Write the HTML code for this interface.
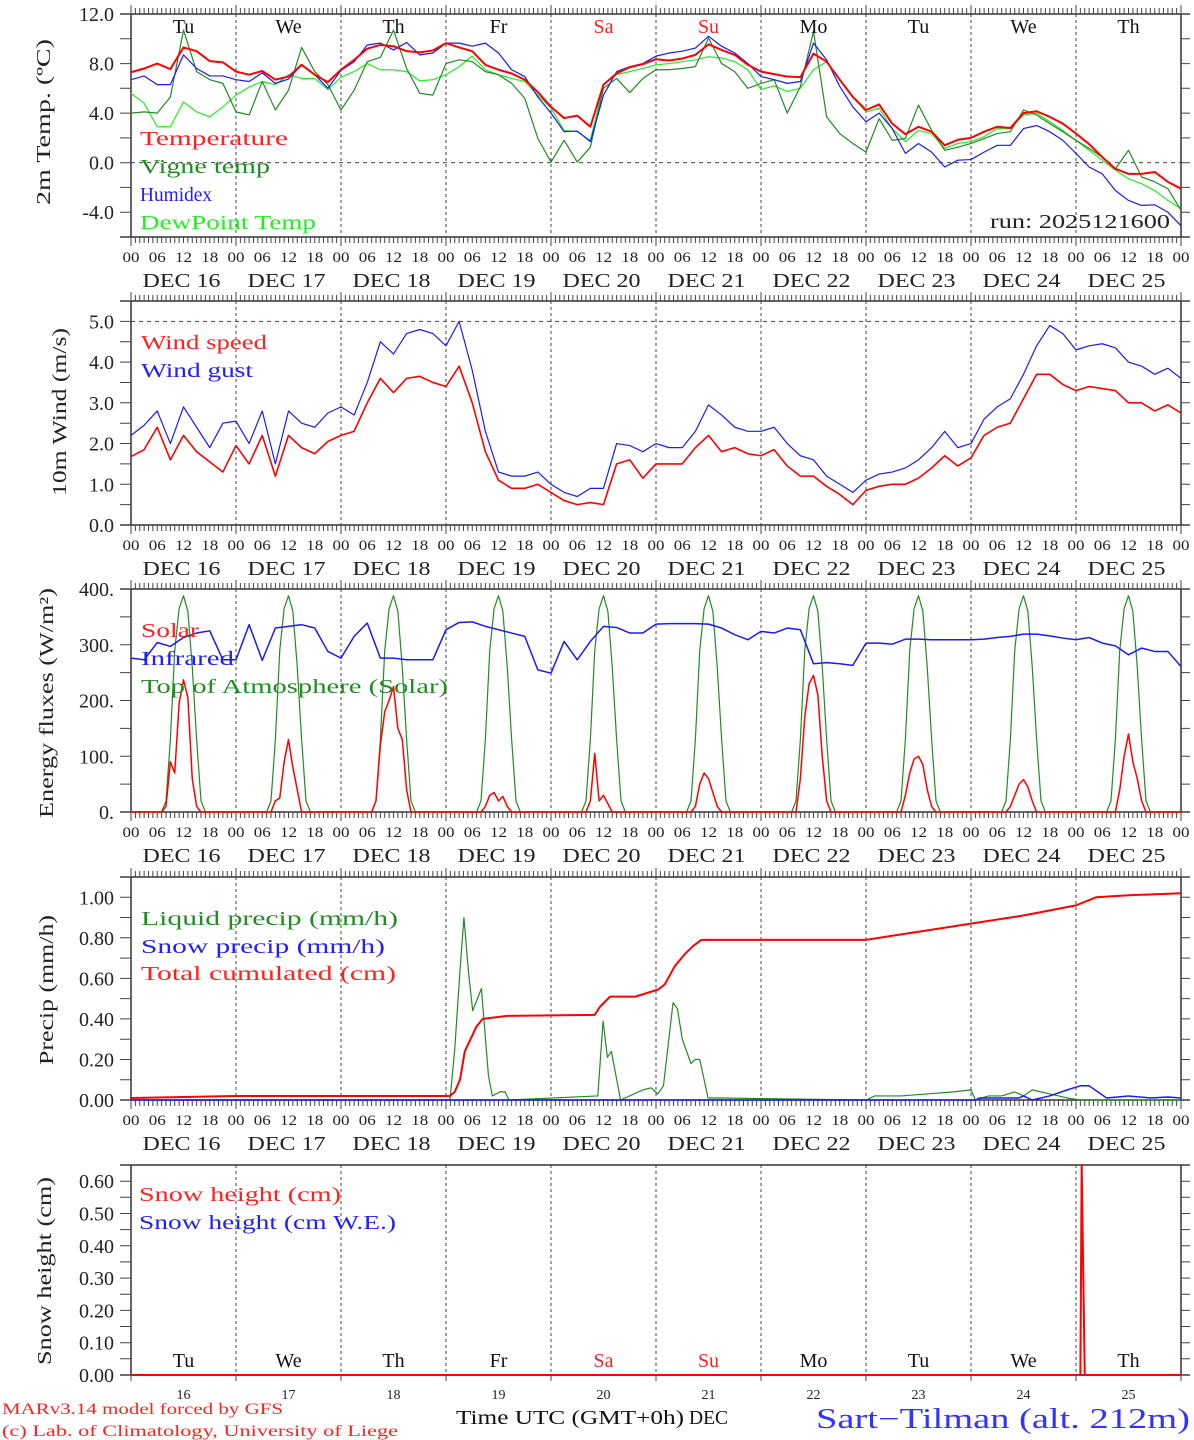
<!DOCTYPE html>
<html><head><meta charset="utf-8"><title>MAR meteogram Sart-Tilman</title>
<style>html,body{margin:0;padding:0;background:#fff}svg{display:block;font-family:"Liberation Serif",serif}</style>
</head><body>
<svg id="chart" xmlns="http://www.w3.org/2000/svg" width="1194" height="1440" viewBox="0 0 1194 1440"></svg>
<script>
// ===== DATA (3-hourly from 00 UTC Dec 16 to 00 UTC Dec 26) =====
const stepHours = 3;
const dayLabels = ['16','17','18','19','20','21','22','23','24','25'];
const weekdays = ['Tu','We','Th','Fr','Sa','Su','Mo','Tu','We','Th'];
const temperature = [7.3,7.6,8.0,7.55,9.3,9.0,8.2,8.1, 7.35,7.1,7.4,6.7,6.95,7.9,7.1,6.5, 7.5,8.3,9.2,9.5,9.4,9.0,8.9,9.05, 9.65,9.3,9.0,7.9,7.5,7.2,6.7,5.7, 4.5,3.6,3.8,2.9,6.3,7.2,7.7,7.95, 8.35,8.25,8.4,8.7,9.55,9.1,8.7,7.9, 7.35,7.15,6.95,6.9,8.8,8.15,6.7,5.3, 4.25,4.7,3.15,2.3,2.9,2.5,1.4,1.85, 2.0,2.5,2.9,2.8,4.0,4.15,3.7,3.15, 2.35,1.5,0.45,-0.5,-0.9,-0.9,-0.75,-1.55, -2.1];
const vigneTemp = [4.0,4.1,4.0,5.3,10.7,7.35,6.7,6.4, 4.1,3.85,6.55,4.25,5.85,9.3,7.35,6.3, 4.25,5.85,8.15,8.5,10.7,7.6,5.6,5.45, 8.0,8.3,8.15,7.35,7.1,6.4,5.2,1.95, 0.05,1.8,0.05,1.25,6.0,6.8,5.65,6.8, 7.5,7.5,7.6,7.75,10.05,8.0,7.35,6.0, 6.4,6.7,4.0,6.15,10.6,3.7,2.35,1.55, 0.85,3.55,1.8,1.95,4.65,2.6,1.0,1.25, 1.55,1.95,2.35,2.5,4.25,3.85,3.15,2.5, 1.8,1.15,0.45,-0.5,1.0,-1.15,-1.55,-2.1, -3.85];
const humidex = [6.7,7.0,6.3,6.3,8.7,7.6,7.0,7.0, 6.7,6.55,7.25,6.4,6.75,7.9,7.1,6.0, 7.45,8.15,9.5,9.65,9.1,9.7,8.7,8.85, 9.65,9.65,9.4,9.65,8.85,7.5,6.95,5.3, 4.0,2.5,2.55,1.7,5.45,7.35,7.75,8.0, 8.6,8.85,9.0,9.25,10.2,9.4,8.85,8.0, 6.95,6.7,6.4,6.55,9.65,8.3,6.15,4.5, 3.3,4.0,2.75,0.75,1.55,0.85,-0.35,0.2, 0.25,0.85,1.4,1.4,2.75,3.0,2.5,1.8, 0.75,-0.35,-0.9,-2.25,-3.05,-3.45,-3.4,-4.0, -5.1];
const dewPoint = [5.6,4.8,2.9,2.9,4.9,4.1,3.7,4.5, 5.45,6.1,6.55,6.3,7.1,6.8,6.8,5.9, 6.9,7.35,8.0,7.5,7.5,7.35,6.6,6.7, 7.1,7.75,8.6,7.5,7.1,6.8,6.55,5.45, 4.4,2.6,2.5,1.8,6.3,7.1,7.35,7.6, 7.9,8.0,8.15,8.3,8.55,8.45,8.15,7.5, 5.9,6.2,5.75,6.0,7.5,8.15,6.7,5.3, 4.1,4.4,2.75,1.7,2.6,2.35,1.15,1.55, 1.7,2.1,2.75,2.75,3.85,4.0,3.3,2.6, 1.8,1.0,0.2,-0.6,-1.3,-1.7,-2.25,-3.05, -3.7];
const windSpeed = [1.68,1.85,2.4,1.6,2.2,1.8,1.55,1.3, 1.95,1.5,2.2,1.2,2.2,1.9,1.75,2.05, 2.2,2.3,3.0,3.6,3.25,3.6,3.65,3.5, 3.4,3.9,3.0,1.8,1.1,0.9,0.9,1.0, 0.8,0.6,0.5,0.55,0.5,1.5,1.6,1.15, 1.5,1.5,1.5,1.9,2.2,1.8,1.9,1.75, 1.7,1.85,1.45,1.2,1.2,0.95,0.75,0.5, 0.85,0.95,1.0,1.0,1.15,1.4,1.7,1.45, 1.65,2.2,2.4,2.5,3.1,3.7,3.7,3.45, 3.3,3.4,3.35,3.3,3.0,3.0,2.8,2.95, 2.75];
const windGust = [2.2,2.45,2.8,2.0,2.9,2.4,1.9,2.5, 2.55,2.0,2.8,1.5,2.8,2.5,2.4,2.75, 2.9,2.7,3.5,4.5,4.2,4.7,4.8,4.7, 4.4,5.0,3.8,2.3,1.3,1.2,1.2,1.3, 1.0,0.8,0.7,0.9,0.9,2.0,1.95,1.8, 2.0,1.9,1.9,2.3,2.95,2.7,2.4,2.3, 2.3,2.4,2.0,1.7,1.6,1.2,1.0,0.8, 1.1,1.25,1.3,1.4,1.6,1.9,2.3,1.9, 2.0,2.6,2.9,3.1,3.7,4.4,4.9,4.7, 4.3,4.4,4.45,4.35,4.0,3.9,3.7,3.85, 3.6];
const infrared = [276,273,304,297,313,321,325,273, 273,336,272,330,333,336,330,288, 276,315,339,276,276,273,273,273, 327,340,341,333,327,321,315,255, 249,306,273,306,333,331,321,321, 337,338,338,338,337,330,318,309, 324,321,330,327,266,268,266,263, 303,303,301,310,310,309,309,309, 309,310,313,315,319,319,316,312, 309,313,303,298,282,294,288,288, 261];
// hourly clear-sky top-of-atmosphere profile (hour of day 0..23)
const toaProfile = [0,0,0,0,0,0,0,0,20,130,290,365,388,360,260,130,20,0,0,0,0,0,0,0];
// hourly solar, hours 7..16 of each day
const solarStartHour = 7;
const solarDays = [
 [0,10,90,70,195,237,205,60,10,0],
 [0,0,20,25,90,130,80,40,0,0],
 [0,20,120,180,200,225,150,130,40,0],
 [0,0,10,30,35,20,28,10,0,0],
 [0,0,20,105,20,30,15,0,0,0],
 [0,0,10,50,70,60,35,10,0,0],
 [0,0,60,170,230,245,210,100,20,0],
 [0,0,30,70,95,100,85,40,10,0],
 [0,0,10,30,50,58,45,20,0,0],
 [0,0,0,40,100,140,90,60,20,0]];
const liquidHours = [0,72.9,74,75.2,76.1,77.1,78.1,80.1,81.7,82.6,84.3,85.5,86.4,106.7,107.9,108.9,109.8,111.9,117,118.9,120.4,121.7,123.9,124.9,126,128,129,130,131.9,135,168,170,176,182,188,192,193,196,199,202,204,206,210,214,217,240];
const liquidValues = [0,0,0.25,0.64,0.9,0.64,0.44,0.55,0.12,0.02,0.04,0.04,0,0.02,0.39,0.21,0.24,0,0.05,0.06,0.03,0.07,0.48,0.45,0.3,0.18,0.2,0.2,0.01,0.01,0,0.02,0.02,0.03,0.04,0.05,0,0.02,0.02,0.04,0.02,0.05,0.03,0.01,0,0];
const snowPrecipHours = [0,193,194,203,204,206,210,214,217,219,223,228,233,237,240];
const snowPrecipValues = [0,0,0.01,0.01,0.02,0,0.02,0.05,0.07,0.07,0.01,0.02,0.01,0.015,0.01];
const cumulHours = [0,24,72.9,74,75.2,76.3,77.4,78.9,80.4,86,106,107.2,109.5,115.3,120.5,122,124.3,126.6,128.5,130.4,168,180,192,204,216,220.6,228,240];
const cumulValues = [0.01,0.02,0.02,0.04,0.1,0.24,0.29,0.36,0.4,0.415,0.42,0.46,0.51,0.51,0.545,0.57,0.66,0.72,0.76,0.79,0.79,0.83,0.87,0.91,0.96,1.0,1.01,1.02];
const snowHeightHours = [0,217,217.3,218,240];
const snowHeightValues = [0,0,0.65,0,0];
const snowWEHours = [0,240];
const snowWEValues = [0,0];
const tempTicks = [-4,0,4,8,12];
const windTicks = [0,1,2,3,4,5];
const fluxTicks = [0,100,200,300,400];
const precipTicks = [0,0.2,0.4,0.6,0.8,1.0];
const snowTicks = [0,0.1,0.2,0.3,0.4,0.5,0.6];

// ===== RENDER =====
const NS='http://www.w3.org/2000/svg';
const svg=document.getElementById('chart');
function mk(tag,attrs,parent){const e=document.createElementNS(NS,tag);for(const k in attrs)e.setAttribute(k,attrs[k]);(parent||svg).appendChild(e);return e;}
function X(h){return 131+h*1050/240;}
function txt(x,y,s,size,color,anchor,len,name,rot){
  const t=mk('text',{x:x,y:y,'font-size':size,fill:color,'text-anchor':anchor||'start'});
  if(len){t.setAttribute('textLength',len);t.setAttribute('lengthAdjust','spacingAndGlyphs');}
  if(rot){t.setAttribute('transform','rotate(-90 '+x+' '+y+')');}
  t.textContent=s;
  
  
  return t;
}
const panels=[
 {top:14,bot:237,min:-6,max:12,minor:2,ticks:tempTicks,fmt:v=>v.toFixed(1),title:'2m Temp. (ºC)',tx:50,ty:122,tl:166},
 {top:301,bot:525,min:0,max:5.5,minor:0.5,ticks:windTicks,fmt:v=>v.toFixed(1),title:'10m Wind (m/s)',tx:66,ty:412,tl:168},
 {top:589,bot:812,min:0,max:400,minor:50,ticks:fluxTicks,fmt:v=>v.toFixed(0)+'.',title:'Energy fluxes (W/m²)',tx:53,ty:703,tl:230},
 {top:877,bot:1100,min:0,max:1.1,minor:0.1,ticks:precipTicks,fmt:v=>v.toFixed(2),title:'Precip (mm/h)',tx:53,ty:990,tl:150},
 {top:1165,bot:1375,min:0,max:0.65,minor:0.05,ticks:snowTicks,fmt:v=>v.toFixed(2),title:'Snow height (cm)',tx:51,ty:1271,tl:188}];
function Yf(p){return v=>p.bot-(v-p.min)/(p.max-p.min)*(p.bot-p.top);}

panels.forEach((p,pi)=>{
  const Y=Yf(p);
  const g=mk('g',{});
  
  
  // day dividers
  for(let d=1;d<10;d++){
    const l=mk('line',{x1:X(24*d),x2:X(24*d),y1:p.top,y2:pi==4?p.bot+5:p.bot,stroke:'#444','stroke-width':1,'stroke-dasharray':'3,3'},g);
    
    
  }
  // frame
  const fr=mk('path',{d:`M120 ${p.top}H1190M120 ${p.bot}H1190M131 ${p.top}V${p.bot}M1181 ${p.top}V${p.bot}`,stroke:'#333','stroke-width':1.5,fill:'none'},g);
  
  
  // y ticks
  let d='';
  for(let v=p.min;v<=p.max+1e-9;v+=p.minor){const y=Y(v).toFixed(1);d+=`M120 ${y}H131M1181 ${y}H1190`;}
  if(pi<4){for(let h=0;h<=240;h++){const x=X(h).toFixed(2);const L=h%24==0?9:6;d+=`M${x} ${p.top}v-${L}M${x} ${p.bot}v${L}`;}}
  else{for(let dd=0;dd<=10;dd++){const x=X(24*dd);d+=`M${x} ${p.bot}v6`;}}
  const tk=mk('path',{d:d,stroke:'#444','stroke-width':1,fill:'none'},g);
  
  
  p.ticks.forEach(v=>{txt(114,Y(v)+7,p.fmt(v),20,'#222','end',null,'y-tick-label');});
  txt(p.tx,p.ty,p.title,20,'#222','middle',p.tl,'y-axis-title',true);
  if(pi<4){
    for(let dd=0;dd<10;dd++){
      [0,6,12,18].forEach(hh=>{txt(X(24*dd+hh),p.bot+25,String(hh).padStart(2,'0'),15,'#222','middle',17,'x-tick-label');});
      txt(X(24*dd+12)-2,p.bot+50,'DEC '+dayLabels[dd],20,'#222','middle',78,'date-label');
    }
    txt(X(240),p.bot+25,'00',15,'#222','middle',17,'x-tick-label');
  } else {
    for(let dd=0;dd<10;dd++){txt(X(24*dd+12),p.bot+24,dayLabels[dd],14,'#222','middle',null,'day-number');}
  }
});

function line(pi,hours,vals,color,w,name){
  const Y=Yf(panels[pi]);
  const pts=vals.map((v,i)=>X(hours[i]).toFixed(2)+','+Y(v).toFixed(2)).join(' ');
  const pl=mk('polyline',{points:pts,fill:'none',stroke:color,'stroke-width':w,'stroke-linejoin':'round'});
  
  
}
const h3=a=>a.map((v,i)=>i*stepHours);
// panel 1
const p1=Yf(panels[0]);
const z=mk('line',{x1:131,x2:1181,y1:p1(0),y2:p1(0),stroke:'#444','stroke-dasharray':'4,4','stroke-width':1});


line(0,h3(dewPoint),dewPoint,'#22ee22',1.2,'dewpoint-line');
line(0,h3(vigneTemp),vigneTemp,'#228b22',1.2,'vigne-temp-line');
line(0,h3(humidex),humidex,'#1a1aff',1.2,'humidex-line');
line(0,h3(temperature),temperature,'#ff0000',2,'temperature-line');
// panel 2
const p2=Yf(panels[1]);
const f=mk('line',{x1:131,x2:1181,y1:p2(5),y2:p2(5),stroke:'#444','stroke-dasharray':'4,4','stroke-width':1});


line(1,h3(windGust),windGust,'#1a1aff',1.2,'wind-gust-line');
line(1,h3(windSpeed),windSpeed,'#ff0000',1.6,'wind-speed-line');
// panel 3
const toaH=[],toaV=[],solH=[],solV=[];
for(let dd=0;dd<10;dd++){for(let hh=0;hh<24;hh++){toaH.push(24*dd+hh);toaV.push(toaProfile[hh]);}}
toaH.push(240);toaV.push(toaProfile[0]);
solH.push(0);solV.push(0);
solarDays.forEach((arr,dd)=>arr.forEach((v,k)=>{solH.push(24*dd+solarStartHour+k);solV.push(v);}));
solH.push(240);solV.push(0);
line(2,toaH,toaV,'#228b22',1.2,'toa-solar-line');
line(2,h3(infrared),infrared,'#1a1aff',1.5,'infrared-line');
line(2,solH,solV,'#ff0000',1.5,'solar-line');
// panel 4
line(3,liquidHours,liquidValues,'#228b22',1.2,'liquid-precip-line');
line(3,snowPrecipHours,snowPrecipValues,'#1a1aff',1.5,'snow-precip-line');
line(3,cumulHours,cumulValues,'#ff0000',2,'total-cumulated-line');
// panel 5
line(4,snowWEHours,snowWEValues,'#1a1aff',1.5,'snow-we-line');
line(4,snowHeightHours,snowHeightValues,'#ff0000',2,'snow-height-line');

// weekday labels
weekdays.forEach((w,i)=>{
  const c=(w=='Sa'||w=='Su')?'#ff2020':'#111';
  txt(X(24*i+12),33,w,20,c,'middle',null,'weekday-label');
  txt(X(24*i+12),1367,w,20,c,'middle',null,'weekday-label');
});
// legends
txt(140,145,'Temperature',20,'#ff2020','start',148,'legend-temperature');
txt(140,173,'Vigne temp',20,'#228b22','start',130,'legend-vigne-temp');
txt(140,201,'Humidex',20,'#2020ff','start',72,'legend-humidex');
txt(140,229,'DewPoint Temp',20,'#22ee22','start',176,'legend-dewpoint');
txt(990,228,'run: 2025121600',20,'#222','start',180,'run-label');
txt(141,349,'Wind speed',20,'#ff2020','start',126,'legend-wind-speed');
txt(141,377,'Wind gust',20,'#2020ff','start',112,'legend-wind-gust');
txt(141,637,'Solar',20,'#ff2020','start',58,'legend-solar');
txt(141,665,'Infrared',20,'#2020ff','start',93,'legend-infrared');
txt(141,693,'Top of Atmosphere (Solar)',20,'#228b22','start',307,'legend-toa');
txt(141,925,'Liquid precip (mm/h)',20,'#228b22','start',257,'legend-liquid-precip');
txt(141,953,'Snow precip (mm/h)',20,'#2020ff','start',244,'legend-snow-precip');
txt(141,980,'Total cumulated (cm)',20,'#ff2020','start',255,'legend-total-cumulated');
txt(139,1201,'Snow height (cm)',20,'#ff2020','start',202,'legend-snow-height');
txt(139,1229,'Snow height (cm W.E.)',20,'#2020ff','start',257,'legend-snow-we');
// footer
txt(2,1414,'MARv3.14 model forced by GFS',16,'#ff2020','start',281,'model-credit');
txt(2,1436,'(c) Lab. of Climatology, University of Liege',16,'#ff2020','start',396,'lab-credit');
txt(456,1424,'Time UTC (GMT+0h)',20,'#111','start',228,'x-axis-title');
txt(689,1424,'DEC',20,'#111','start',39,'x-axis-month');
txt(816,1428,'Sart−Tilman (alt. 212m)',28,'#3333ff','start',374,'station-title');
</script>
</body></html>
